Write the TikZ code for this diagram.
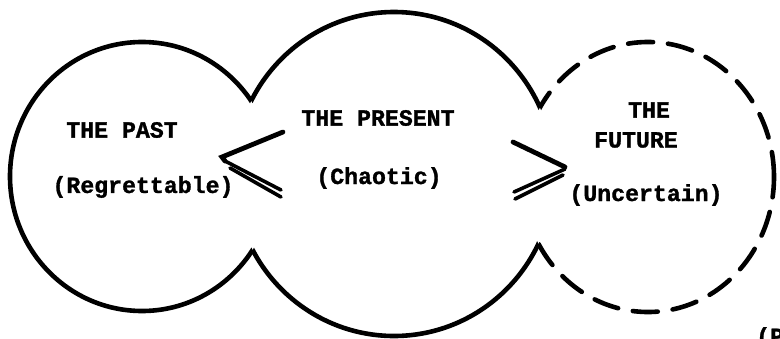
\documentclass[tikz,border=0pt]{standalone}
\usepackage{fontspec}
\newfontfamily\tw{Liberation Mono Bold}[FakeBold=1.3]
\begin{document}
\begin{tikzpicture}[x=1pt,y=-1pt,
  outline/.style={line width=4.6pt},
  dashout/.style={line width=4.6pt,line cap=round,dash pattern=on 25pt off 15pt},
  label/.style={inner sep=0pt,font=\tw\fontsize{23.2}{28}\selectfont},
  sign/.style={line width=4.8pt,line cap=round},
  signthin/.style={line width=3.6pt,line cap=round}]
\useasboundingbox[fill=white] (0,0) rectangle (780,338);
% left circle (outside middle)
\begin{scope}[even odd rule]
  \clip (-20,-20) rectangle (800,360) (394,174) ellipse[x radius=160pt,y radius=162pt];
  \draw[outline] (142,176.5) ellipse[x radius=132pt,y radius=134.5pt];
\end{scope}
% middle circle (outside left and right)
\begin{scope}[even odd rule]
  \clip (-20,-20) rectangle (800,360) (142,176.5) ellipse[x radius=132pt,y radius=134.5pt];
  \begin{scope}[even odd rule]
    \clip (-20,-20) rectangle (800,360) (648,177) ellipse[x radius=126pt,y radius=135pt];
    \draw[outline] (394,174) ellipse[x radius=160pt,y radius=162pt];
  \end{scope}
\end{scope}
% right dashed circle (outside middle)
\begin{scope}[even odd rule]
  \clip (-20,-20) rectangle (800,360) (394,174) ellipse[x radius=160pt,y radius=162pt];
  \draw[dashout] (648,177) ellipse[x radius=126pt,y radius=135pt];
\end{scope}
% texts
\node[label] (past) at (122,130) {THE PAST};
\node[label] (pastsub) at (143,187) {(Regrettable)};
\node[label] (present) at (378,118) {THE PRESENT};
\node[label] (presentsub) at (379,178) {(Chaotic)};
\node[label] (futa) at (649,110) {THE};
\node[label] (futb) at (636,140) {FUTURE};
\node[label] (futsub) at (646,195) {(Uncertain)};
\node[label,anchor=north west] (cut) at (756,327) {(P};
% "<" sign
\coordinate (lv) at (222,157);
\coordinate (lu) at (283,132);
\coordinate (la1) at (225,161);
\coordinate (lb1) at (281,190);
\coordinate (la2) at (230,168);
\coordinate (lb2) at (281,197);
\draw[sign] (lu) -- (lv) -- (la1);
\draw[signthin] (la1) -- (lb1);
\draw[signthin] (la2) -- (lb2);
% ">" sign
\coordinate (gu) at (513,142);
\coordinate (gv) at (565,167);
\coordinate (ga1) at (565,169);
\coordinate (gb1) at (514,192);
\coordinate (ga2) at (563,175);
\coordinate (gb2) at (515,199);
\draw[sign] (gu) -- (gv);
\draw[signthin] (ga1) -- (gb1);
\draw[signthin] (ga2) -- (gb2);
\end{tikzpicture}
\end{document}
